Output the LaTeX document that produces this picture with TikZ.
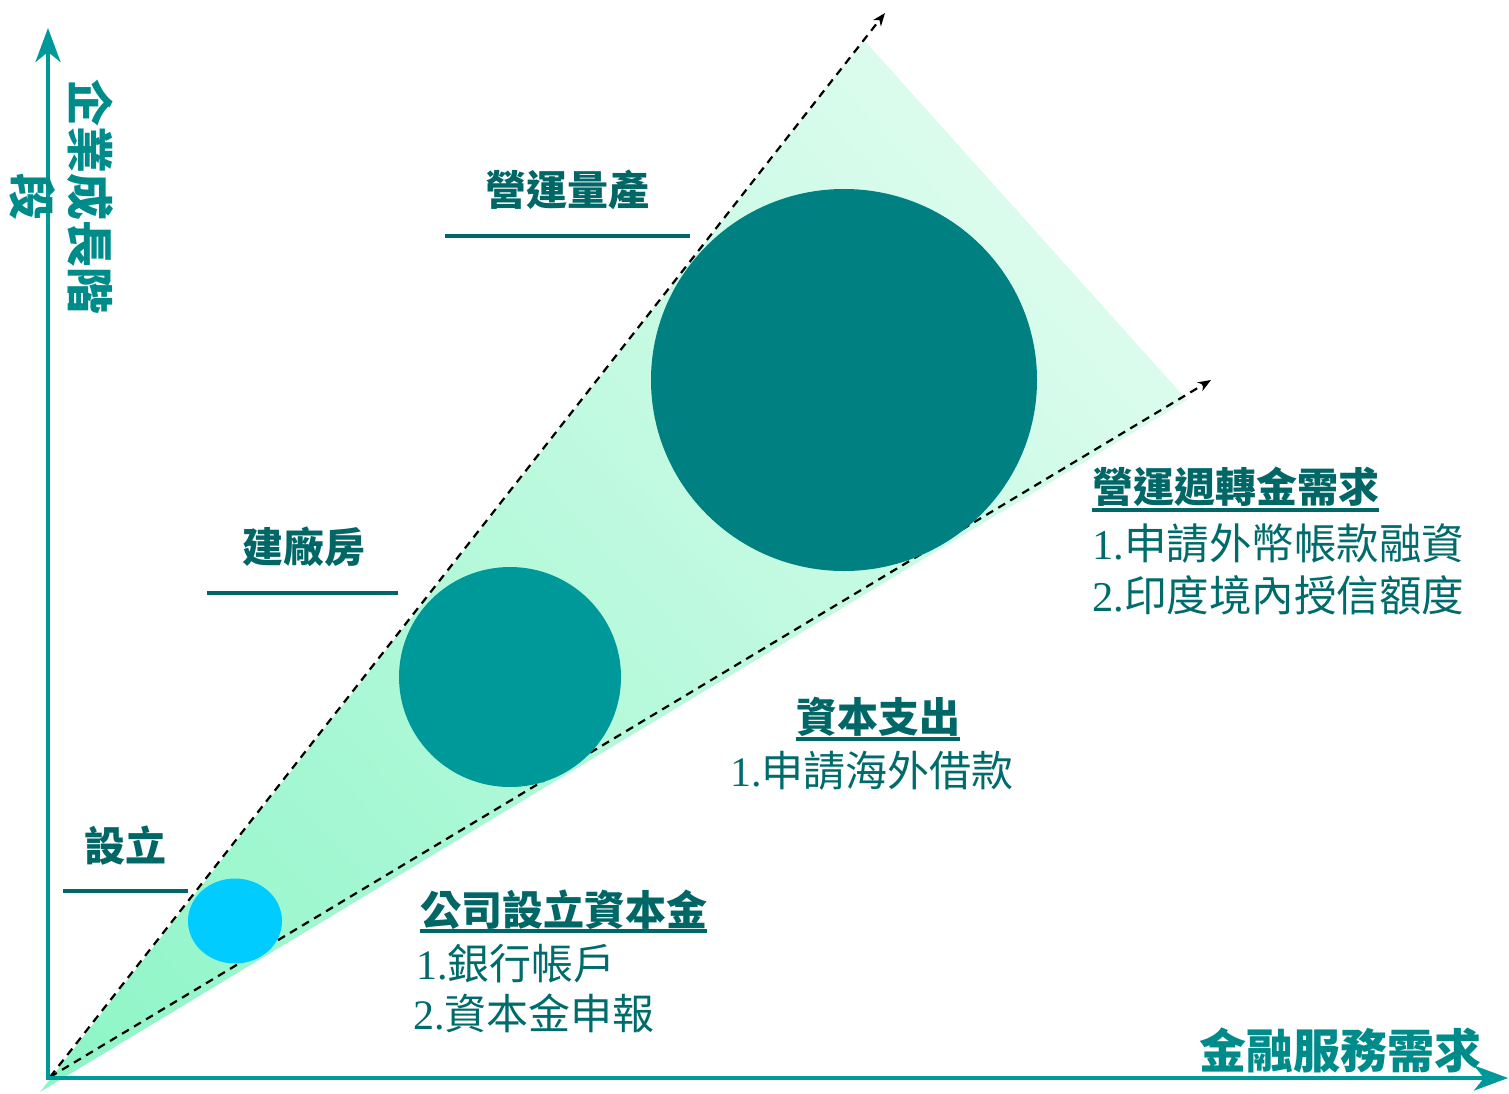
\documentclass[tikz,border=0pt]{standalone}
\usepackage{fontspec}
\setmainfont{Liberation Serif}
\newfontfamily\cjk{Noto Sans CJK TC}
\usetikzlibrary{arrows.meta}
\definecolor{axiscol}{HTML}{009999}
\definecolor{axislab}{HTML}{008B8B}
\definecolor{darkteal}{HTML}{006666}
\definecolor{bodyteal}{HTML}{006B6B}
\definecolor{fillA}{HTML}{8CF5C6}
\definecolor{fillB}{HTML}{DCFCEE}
\definecolor{cyanc}{HTML}{00CCFF}
\definecolor{midc}{HTML}{009999}
\definecolor{bigc}{HTML}{008080}
\tikzset{
  axisline/.style={draw=axiscol, line width=4pt, -{Stealth[length=34pt,width=25pt,inset=10pt]}},
  dashline/.style={draw=black, line width=2.2pt, dash pattern=on 8pt off 6pt, -{Stealth[length=13pt,width=10pt,inset=4pt]}},
  stagelab/.style={inner sep=0pt, text=darkteal, font=\cjk\bfseries\fontsize{41}{48}\selectfont},
  stagerule/.style={draw=darkteal, line width=4pt},
  titlelab/.style={inner sep=0pt, anchor=base west, text=darkteal, font=\cjk\bfseries\fontsize{41}{48}\selectfont},
  ulrule/.style={draw=darkteal, line width=3.5pt},
  bodylab/.style={inner sep=0pt, anchor=base west, text=bodyteal},
  axislabel/.style={inner sep=0pt, text=axislab, font=\cjk\bfseries\fontsize{47}{56}\selectfont},
}
\newcommand{\lnum}[1]{{\fontspec{Liberation Serif}#1}}
\begin{document}
\begin{tikzpicture}[x=1pt,y=-1pt]
\useasboundingbox (0,0) rectangle (1509,1093);
% gradient fill, iso-lines parallel to the far edge (drawn as fine bands)
\begin{scope}
  \clip (40,1092) -- (864,40) -- (1187,400) -- cycle;
  \begin{scope}[shift={(40,1092)}, rotate=42]
    \foreach \i in {0,...,79} {
      \pgfmathsetmacro\p{100*\i/79}
      \fill[fillB!\p!fillA] (\i*16.7-1,-900) rectangle (\i*16.7+17.5,900);
    }
  \end{scope}
\end{scope}
% named coordinates
\coordinate (O) at (50,1077);
\coordinate (T1) at (885,13);
\coordinate (T2) at (1211,380);
\coordinate (YT) at (48,28);
\coordinate (XT) at (1508,1078);
\coordinate (YB) at (48,1080);
\coordinate (XB) at (46,1078);
% dashed
\draw[dashline] (O) -- (T1);
\draw[dashline] (O) -- (T2);
% circles
\fill[cyanc] (235,921) ellipse [x radius=47, y radius=42.5];
\fill[midc] (510,677) ellipse [x radius=111, y radius=110];
\fill[bigc] (844,380) ellipse [x radius=193, y radius=191];
% axes
\draw[axisline] (YB) -- (YT);
\draw[axisline] (XB) -- (XT);
% axis labels
\node[axislabel, rotate=-90] (yl1) at (90,197) {企業成長階};
\node[axislabel, rotate=-90] (yl2) at (33,197) {段};
\node[axislabel, anchor=base west] (xl) at (1199,1068) {金融服務需求};
% stage labels
\node[stagelab, anchor=base] (s3) at (567,205) {營運量產};
\draw[stagerule] (445,236) -- (690,236);
\node[stagelab, anchor=base] (s2) at (304,562) {建廠房};
\draw[stagerule] (207,593) -- (398,593);
\node[stagelab, anchor=base] (s1) at (125,861) {設立};
\draw[stagerule] (63,891) -- (188,891);
% right block
\node[titlelab] (t3) at (1092,502) {營運週轉金需求};
\draw[ulrule] ([yshift=-8pt]t3.base west) -- ([yshift=-8pt]t3.base east);
\node[bodylab, font=\cjk\fontsize{42.5}{52}\selectfont] (b31) at (1092,559) {\lnum{1.}申請外幣帳款融資};
\node[bodylab, font=\cjk\fontsize{42.5}{52}\selectfont] (b32) at (1092,611) {\lnum{2.}印度境內授信額度};
% middle block
\node[titlelab] (t2) at (796,732) {資本支出};
\draw[ulrule] ([yshift=-7pt]t2.base west) -- ([yshift=-7pt]t2.base east);
\node[bodylab, font=\cjk\fontsize{42}{52}\selectfont] (b21) at (730,786) {\lnum{1.}申請海外借款};
% lower block
\node[titlelab] (t1) at (420,925) {公司設立資本金};
\draw[ulrule] ([yshift=-6pt]t1.base west) -- ([yshift=-6pt]t1.base east);
\node[bodylab, font=\cjk\fontsize{42}{52}\selectfont] (b11) at (416,979) {\lnum{1.}銀行帳戶};
\node[bodylab, font=\cjk\fontsize{42}{52}\selectfont] (b12) at (413,1029) {\lnum{2.}資本金申報};
\end{tikzpicture}
\end{document}
